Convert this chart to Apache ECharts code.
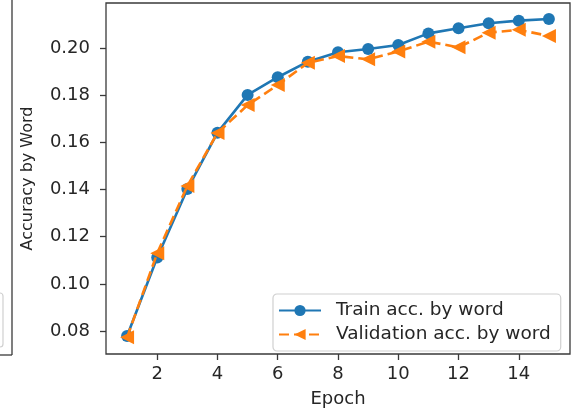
<!DOCTYPE html>
<html>
<head>
<meta charset="utf-8">
<script src="https://cdn.jsdelivr.net/npm/echarts@6/dist/echarts.min.js"></script>
<style>
  html, body { margin: 0; padding: 0; background: #ffffff; }
  #chart { width: 572px; height: 408px; }
</style>
</head>
<body>
<div id="chart"></div>
<script>
// Per-epoch word accuracy on the training and validation sets
const epochs = [1, 2, 3, 4, 5, 6, 7, 8, 9, 10, 11, 12, 13, 14, 15];
const trainAcc = [0.0779, 0.1112, 0.1402, 0.1641, 0.1801, 0.1876, 0.1942, 0.1982, 0.1996, 0.2013, 0.2062, 0.2084, 0.2105, 0.2116, 0.2123];
const validAcc = [0.0773, 0.1130, 0.1415, 0.1640, 0.1758, 0.1843, 0.1937, 0.1966, 0.1952, 0.1985, 0.2027, 0.2003, 0.2065, 0.2077, 0.2051];
const xTicks = [2, 4, 6, 8, 10, 12, 14];
const yTicks = [0.08, 0.10, 0.12, 0.14, 0.16, 0.18, 0.20];

const BLUE = '#1f77b4';
const ORANGE = '#ff7f0e';
const INK = '#262626';
const FONT = 'DejaVu Sans';

const pairs = (xs, ys) => xs.map((x, i) => [x, ys[i]]);
// left-pointing triangle marker
const leftTri = 'path://M0,5 L10,0 L10,10 Z';

const chart = echarts.init(document.getElementById('chart'), null, { renderer: 'canvas' });

chart.setOption({
  animation: false,
  backgroundColor: '#ffffff',
  textStyle: { fontFamily: FONT },
  grid: {
    left: 106, right: 2, top: 3, bottom: 54,
    show: true, borderColor: '#3a3a3a', borderWidth: 1.3,
    containLabel: false,
    outerBoundsMode: 'none'
  },
  xAxis: {
    type: 'value',
    min: 0.3, max: 15.7,
    name: 'Epoch',
    nameLocation: 'middle',
    nameGap: 36,
    nameTextStyle: { fontSize: 18, color: INK, fontFamily: FONT },
    axisLine: { show: false },
    splitLine: { show: false },
    axisTick: { show: true, customValues: xTicks, length: 6, lineStyle: { color: '#3a3a3a', width: 1.3 } },
    axisLabel: {
      customValues: xTicks, margin: 11, fontSize: 18, color: INK, fontFamily: FONT,
      formatter: v => String(v)
    }
  },
  yAxis: {
    type: 'value',
    min: 0.07025, max: 0.21908,
    name: 'Accuracy by Word',
    nameLocation: 'middle',
    nameRotate: 90,
    nameGap: 70,
    nameTextStyle: { fontSize: 16, color: INK, fontFamily: FONT },
    axisLine: { show: false },
    splitLine: { show: false },
    axisTick: { show: true, customValues: yTicks, length: 6, lineStyle: { color: '#3a3a3a', width: 1.3 } },
    axisLabel: {
      customValues: yTicks, margin: 16, fontSize: 18, color: INK, fontFamily: FONT,
      formatter: v => v.toFixed(2)
    }
  },
  legend: {
    orient: 'vertical',
    left: 273, top: 294,
    padding: [7, 10, 7, 5],
    itemWidth: 42, itemHeight: 14, itemGap: 5,
    backgroundColor: '#ffffff',
    borderColor: '#d0d0d0', borderWidth: 1.2, borderRadius: 4,
    textStyle: { fontSize: 18.5, color: INK, fontFamily: FONT, padding: [0, 0, 0, 10] },
    data: ['Train acc. by word', 'Validation acc. by word']
  },
  series: [
    {
      name: 'Train acc. by word',
      type: 'line',
      data: pairs(epochs, trainAcc),
      symbol: 'circle', symbolSize: 12,
      lineStyle: { color: BLUE, width: 2.6 },
      itemStyle: { color: BLUE },
      z: 3
    },
    {
      name: 'Validation acc. by word',
      type: 'line',
      data: pairs(epochs, validAcc),
      symbol: leftTri, symbolSize: 14,
      lineStyle: { color: ORANGE, width: 2.6, type: [10, 5] },
      itemStyle: { color: ORANGE },
      z: 4
    }
  ],
  // edge of the neighbouring panel on the left
  graphic: [
    { type: 'line', shape: { x1: 12, y1: 0, x2: 12, y2: 355 }, style: { stroke: '#3a3a3a', lineWidth: 1.3 }, silent: true },
    { type: 'line', shape: { x1: 0, y1: 355, x2: 12, y2: 355 }, style: { stroke: '#3a3a3a', lineWidth: 1.3 }, silent: true },
    { type: 'rect', shape: { x: -6, y: 293, width: 9, height: 54, r: 3 }, style: { fill: '#ffffff', stroke: '#d0d0d0', lineWidth: 1.2 }, silent: true }
  ]
});
</script>
</body>
</html>
